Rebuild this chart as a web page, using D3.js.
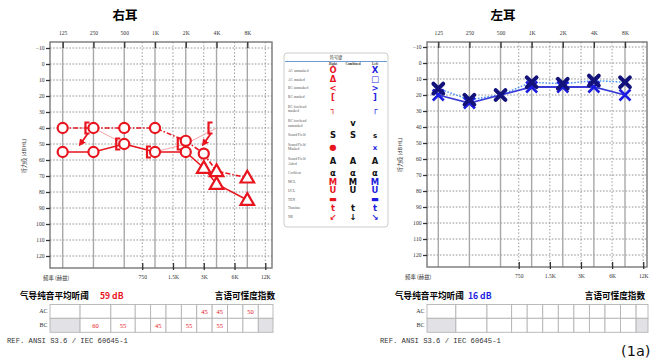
<!DOCTYPE html>
<html>
<head>
<meta charset="utf-8">
<script src="https://cdn.jsdelivr.net/npm/d3@7"></script>
<style>
  body { margin: 0; background: #fff; }
  svg { display: block; }
</style>
</head>
<body>
<div id="chart"></div>
<script>
// frequencies / tick labels
const octaveFreqs = [125, 250, 500, 1000, 2000, 4000, 8000];
const octaveLabels = ['125', '250', '500', '1K', '2K', '4K', '8K'];
const midFreqs = [750, 1500, 3000, 6000, 12000];
const midLabels = ['750', '1.5K', '3K', '6K', '12K'];
const dbTicks = [-10, 0, 10, 20, 30, 40, 50, 60, 70, 80, 90, 100, 110, 120];
const tableFreqs = [125, 250, 500, 750, 1000, 1500, 2000, 3000, 4000, 6000, 8000, 12000];

// right ear
const rightUpperFreqs = [125, 250, 500, 1000, 2000, 3000, 4000, 8000];
const rightUpperDb = [40, 40, 40, 40, 48, 56, 67, 71];
const rightUpperMarks = ['O', 'O', 'O', 'O', 'O', 'O', 'T', 'T'];
const rightLowerFreqs = [125, 250, 500, 1000, 2000, 3000, 4000, 8000];
const rightLowerDb = [55, 55, 50, 55, 55, 65, 75, 85];
const rightLowerMarks = ['O', 'O', 'O', 'O', 'O', 'T', 'T', 'T'];
const rightBcFreqs = [250, 500, 1000, 2000, 4000];
const rightBcDb = [40, 50, 55, 50, 40];
const rightArrowFreqs = [250, 4000];
const rightArrowDb = [40, 40];
const rightAcTable = [null, null, null, null, null, null, null, 45, 45, null, 50, null];
const rightBcTable = [null, 60, 55, null, 45, null, 55, null, 55, null, null, null];
const rightPta = 59;

// left ear
const leftFreqs = [125, 250, 500, 1000, 2000, 4000, 8000];
const leftSolidDb = [20, 25, 20, 15, 15, 15, 20];
const leftDottedDb = [16, 23, 20, 12, 13, 11, 12];
const leftAcTable = [null, null, null, null, null, null, null, null, null, null, null, null];
const leftBcTable = [null, null, null, null, null, null, null, null, null, null, null, null];
const leftPta = 16;

// symbol key
const legendLabels = ['AC unmasked', 'AC masked', 'BC unmasked', 'BC masked', 'BC forehead|masked',
  'BC forehead|unmasked', 'Sound Field', 'Sound Field|Masked', 'Sound Field|Aided', 'Cochlear',
  'MCL', 'UCL', 'TEN', 'Tinnitus', 'NR'];
const legendRight = ['O', 'Δ', '<', '[', '┐', '', 'S', '●', 'A', 'α', 'M', 'U', '▬', 't', '↙'];
const legendCombined = ['', '', '', '', '', 'v', 'S', '', 'A', 'α', 'M', 'U', '', 't', '↓'];
const legendLeft = ['X', '□', '>', ']', '┌', '', 's', 'x', 'A', 'α', 'M', 'U', '▬', 't', '↘'];

const RED = '#e8141e';
const BLUE = '#1c1ce0';
const serif = "'Liberation Serif','DejaVu Serif',serif";
const cjk = "'Noto Sans CJK SC','Noto Sans CJK JP',sans-serif";

const svg = d3.select('#chart').append('svg')
  .attr('width', 654).attr('height', 360)
  .attr('viewBox', [0, 0, 654, 360]);

const defs = svg.append('defs');
defs.append('marker')
  .attr('id', 'arrowRed')
  .attr('viewBox', '0 0 10 10')
  .attr('refX', 6).attr('refY', 5)
  .attr('markerWidth', 4).attr('markerHeight', 4)
  .attr('orient', 'auto')
  .append('path').attr('d', 'M0,0L10,5L0,10z').attr('fill', RED);

function drawEar(cfg) {
  const f = cfg.frame;
  const g = svg.append('g');
  const x = d3.scaleLog().base(2).domain([125, 8000]).range(cfg.xr);
  const y = d3.scaleLinear().domain([-10, 120]).range(cfg.yr);

  g.append('text')
    .attr('x', cfg.titleX).attr('y', 20)
    .attr('text-anchor', 'middle')
    .attr('font-family', cjk).attr('font-weight', 'bold').attr('font-size', 12.5)
    .text(cfg.title);

  // grid
  g.append('g').selectAll('line').data(dbTicks).join('line')
    .attr('x1', f.l).attr('x2', f.r)
    .attr('y1', d => y(d)).attr('y2', d => y(d))
    .attr('stroke', '#8a8a8a').attr('stroke-width', 0.9)
    .attr('stroke-dasharray', '1.6,1.6');

  g.append('g').selectAll('line').data(midFreqs).join('line')
    .attr('x1', d => x(d)).attr('x2', d => x(d))
    .attr('y1', f.t).attr('y2', f.b)
    .attr('stroke', '#8a8a8a').attr('stroke-width', 0.9)
    .attr('stroke-dasharray', '1.4,2');

  g.append('g').selectAll('line').data(octaveFreqs).join('line')
    .attr('x1', d => x(d)).attr('x2', d => x(d))
    .attr('y1', f.t).attr('y2', f.b)
    .attr('stroke', '#a8a8a8').attr('stroke-width', 1.4);

  g.append('rect')
    .attr('x', f.l).attr('y', f.t)
    .attr('width', f.r - f.l).attr('height', f.b - f.t)
    .attr('fill', 'none').attr('stroke', '#777').attr('stroke-width', 1.4);

  // axes
  const top = g.append('g')
    .attr('transform', `translate(0,${f.t})`)
    .call(d3.axisTop(x).tickValues(octaveFreqs).tickSize(3).tickPadding(4)
      .tickFormat((d, i) => octaveLabels[i]));
  const bottom = g.append('g')
    .attr('transform', `translate(0,${f.b})`)
    .call(d3.axisBottom(x).tickValues(midFreqs).tickSize(3).tickPadding(4)
      .tickFormat((d, i) => midLabels[i]));
  const left = g.append('g')
    .attr('transform', `translate(${f.l},0)`)
    .call(d3.axisLeft(y).tickValues(dbTicks).tickSize(4).tickPadding(1.5));
  [top, bottom, left].forEach(a => {
    a.select('.domain').remove();
    a.selectAll('.tick line').attr('stroke', '#333').attr('stroke-width', 1.3);
    a.selectAll('.tick text').attr('font-family', serif).attr('font-size', 5.6).attr('fill', '#333');
  });
  top.selectAll('.tick line').attr('y2', 6);
  bottom.selectAll('.tick line').attr('y2', -5).attr('y1', 2);

  g.append('text')
    .attr('x', cfg.freqLabelX).attr('y', f.b + 12)
    .attr('font-family', cjk).attr('font-size', 5.4).attr('fill', '#333')
    .text('频率 (赫兹)');

  g.append('text')
    .attr('transform', `translate(${cfg.ylabelX},${(y(-10) + y(120)) / 2 + 4}) rotate(-90)`)
    .attr('text-anchor', 'middle')
    .attr('font-family', cjk).attr('font-size', 5.2).attr('fill', '#333')
    .text('听力级 (dB HL)');

  // summary line + table
  g.append('text')
    .attr('x', cfg.ptaX).attr('y', 299)
    .attr('font-family', cjk).attr('font-weight', 'bold').attr('font-size', 8.6)
    .text('气导纯音平均听阈');
  g.append('text')
    .attr('x', cfg.ptaValX).attr('y', 299)
    .attr('font-family', cjk).attr('font-weight', 'bold').attr('font-size', 8.6)
    .attr('fill', cfg.color)
    .text(cfg.pta + ' dB');
  g.append('text')
    .attr('x', cfg.siiRight).attr('y', 299)
    .attr('text-anchor', 'end')
    .attr('font-family', cjk).attr('font-weight', 'bold').attr('font-size', 8.6)
    .text('言语可懂度指数');

  const edges = [f.l];
  for (let i = 0; i < tableFreqs.length - 1; i++) {
    edges.push(x(Math.sqrt(tableFreqs[i] * tableFreqs[i + 1])) + 2);
  }
  edges.push(cfg.tableRight);
  const rows = [
    { name: 'AC', y0: 304.5, y1: 318.3, vals: cfg.ac },
    { name: 'BC', y0: 318.3, y1: 332.3, vals: cfg.bc }
  ];
  rows.forEach((row, ri) => {
    const cells = g.append('g').selectAll('g').data(tableFreqs).join('g');
    cells.append('rect')
      .attr('x', (d, i) => edges[i]).attr('y', row.y0)
      .attr('width', (d, i) => edges[i + 1] - edges[i]).attr('height', row.y1 - row.y0)
      .attr('fill', (d, i) => ri === 1 && (i === 0 || i === tableFreqs.length - 1) ? '#e2e2e6' : '#fff')
      .attr('stroke', '#b4b4b4').attr('stroke-width', 0.9);
    cells.append('text')
      .attr('x', (d, i) => (edges[i] + edges[i + 1]) / 2).attr('y', (row.y0 + row.y1) / 2 + 2.2)
      .attr('text-anchor', 'middle')
      .attr('font-family', serif).attr('font-size', 6.5).attr('fill', cfg.color)
      .text((d, i) => row.vals[i] == null ? '' : row.vals[i]);
    g.append('text')
      .attr('x', f.l - 2.5).attr('y', (row.y0 + row.y1) / 2 + 2)
      .attr('text-anchor', 'end')
      .attr('font-family', serif).attr('font-size', 6).attr('fill', '#333')
      .text(row.name);
  });

  g.append('text')
    .attr('x', cfg.refX).attr('y', 342.5)
    .attr('font-family', "'Liberation Mono','DejaVu Sans Mono',monospace").attr('font-size', 7.2)
    .attr('fill', '#333')
    .text('REF. ANSI S3.6 / IEC 60645-1');

  return { g, x, y };
}

// ---------- right ear ----------
const R = drawEar({
  title: '右耳', titleX: 125,
  xr: [62.7, 247.3], yr: [48, 256],
  frame: { l: 50, r: 272, t: 42, b: 268 },
  freqLabelX: 43, ylabelX: 26,
  ptaX: 20, ptaValX: 100, siiRight: 275, refX: 7, tableRight: 273,
  pta: rightPta, color: RED, ac: rightAcTable, bc: rightBcTable
});

const lineR = (fr, db) => d3.line().x((d, i) => R.x(fr[i])).y(d => R.y(d))(db);

R.g.append('path')
  .attr('d', lineR(rightBcFreqs, rightBcDb))
  .attr('fill', 'none').attr('stroke', '#f39a9a').attr('stroke-width', 0.9);
R.g.append('path')
  .attr('d', lineR(rightUpperFreqs, rightUpperDb))
  .attr('fill', 'none').attr('stroke', RED).attr('stroke-width', 1.6)
  .attr('stroke-dasharray', '5,2,1.5,2');
R.g.append('path')
  .attr('d', lineR(rightLowerFreqs, rightLowerDb))
  .attr('fill', 'none').attr('stroke', RED).attr('stroke-width', 1.5);

// bracket symbols (BC masked, right)
R.g.append('g').selectAll('path').data(rightBcDb).join('path')
  .attr('transform', (d, i) => `translate(${R.x(rightBcFreqs[i]) - 7},${R.y(d)})`)
  .attr('d', 'M3,-5.5H-1V5.5H3')
  .attr('fill', 'none').attr('stroke', RED).attr('stroke-width', 2.2);

R.g.append('g').selectAll('line').data(rightArrowDb).join('line')
  .attr('x1', (d, i) => R.x(rightArrowFreqs[i]) - 6).attr('y1', d => R.y(d) + 6)
  .attr('x2', (d, i) => R.x(rightArrowFreqs[i]) - 13).attr('y2', d => R.y(d) + 16)
  .attr('stroke', RED).attr('stroke-width', 1.8)
  .attr('marker-end', 'url(#arrowRed)');

function markers(fr, db, marks) {
  return R.g.append('g').selectAll('path').data(db).join('path')
    .attr('transform', (d, i) => `translate(${R.x(fr[i])},${R.y(d) + (marks[i] === 'T' ? 1 : 0)})`)
    .attr('d', (d, i) => marks[i] === 'T'
      ? d3.symbol(d3.symbolTriangle, 80)()
      : d3.symbol(d3.symbolCircle, 80)())
    .attr('fill', '#fff').attr('stroke', RED).attr('stroke-width', 2.2);
}
markers(rightUpperFreqs, rightUpperDb, rightUpperMarks);
markers(rightLowerFreqs, rightLowerDb, rightLowerMarks);

// ---------- left ear ----------
const L = drawEar({
  title: '左耳', titleX: 503,
  xr: [438.3, 625], yr: [47, 255],
  frame: { l: 427, r: 647, t: 42, b: 267 },
  freqLabelX: 405, ylabelX: 402,
  ptaX: 395, ptaValX: 468, siiRight: 645, refX: 380, tableRight: 648,
  pta: leftPta, color: BLUE, ac: leftAcTable, bc: leftBcTable
});

const lineL = db => d3.line().x((d, i) => L.x(leftFreqs[i])).y(d => L.y(d))(db);

L.g.append('path')
  .attr('d', lineL(leftDottedDb))
  .attr('fill', 'none').attr('stroke', '#3f8ff0').attr('stroke-width', 1.4)
  .attr('stroke-dasharray', '1.6,1.6');
L.g.append('path')
  .attr('d', lineL(leftSolidDb))
  .attr('fill', 'none').attr('stroke', '#3a3ad8').attr('stroke-width', 1.8);

L.g.append('g').selectAll('path').data(leftSolidDb).join('path')
  .attr('transform', (d, i) => `translate(${L.x(leftFreqs[i])},${L.y(d)})`)
  .attr('d', d3.symbol(d3.symbolX, 80)())
  .attr('fill', 'none').attr('stroke', BLUE).attr('stroke-width', 2.6);
L.g.append('g').selectAll('path').data(leftDottedDb).join('path')
  .attr('transform', (d, i) => `translate(${L.x(leftFreqs[i])},${L.y(d)})`)
  .attr('d', d3.symbol(d3.symbolX, 64)())
  .attr('fill', 'none').attr('stroke', '#12127a').attr('stroke-width', 4)
  .attr('stroke-linecap', 'round');

// ---------- symbol key ----------
const key = svg.append('g');
key.append('rect')
  .attr('x', 284).attr('y', 53).attr('width', 104).attr('height', 174).attr('rx', 3)
  .attr('fill', '#fff').attr('stroke', '#c8c8c8').attr('stroke-width', 0.9);
key.append('text')
  .attr('x', 336).attr('y', 59.3).attr('text-anchor', 'middle')
  .attr('font-family', cjk).attr('font-size', 4.2).attr('fill', '#444')
  .text('符号键');
key.append('line')
  .attr('x1', 285).attr('x2', 387).attr('y1', 61.5).attr('y2', 61.5)
  .attr('stroke', '#6f9ad4').attr('stroke-width', 1);
[['Right', 333], ['Combined', 353], ['Left', 375]].forEach(([t, cx]) => {
  key.append('text')
    .attr('x', cx).attr('y', 64.6).attr('text-anchor', 'middle')
    .attr('font-family', serif).attr('font-weight', 'bold').attr('font-size', 3.4).attr('fill', '#333')
    .text(t);
});

let ky = 66;
legendLabels.forEach((lab, i) => {
  const parts = lab.split('|');
  const h = parts.length > 1 ? 14.6 : 8.8;
  const cy = ky + h / 2;
  parts.forEach((p, j) => {
    key.append('text')
      .attr('x', 288).attr('y', cy + 1.4 + (j - (parts.length - 1) / 2) * 4.6)
      .attr('font-family', serif).attr('font-size', 3.6).attr('fill', '#555')
      .text(p);
  });
  const cols = [
    [legendRight[i], 333, /[SAα]/.test(legendRight[i]) ? '#111' : RED],
    [legendCombined[i], 353, '#111'],
    [legendLeft[i], 375, /[sAα]/.test(legendLeft[i]) ? '#111' : BLUE]
  ];
  cols.forEach(([s, cx, col]) => {
    if (!s) return;
    key.append('text')
      .attr('x', cx).attr('y', cy + 3)
      .attr('text-anchor', 'middle')
      .attr('font-family', "'DejaVu Sans',sans-serif").attr('font-weight', 'bold')
      .attr('font-size', s === 's' || s === 'x' ? 7 : 8.4).attr('fill', col)
      .text(s);
  });
  ky += h;
});

svg.append('text')
  .attr('x', 621).attr('y', 356)
  .attr('font-family', "'DejaVu Sans',sans-serif").attr('font-size', 14.5).attr('fill', '#111')
  .text('(1a)');
</script>
</body>
</html>
